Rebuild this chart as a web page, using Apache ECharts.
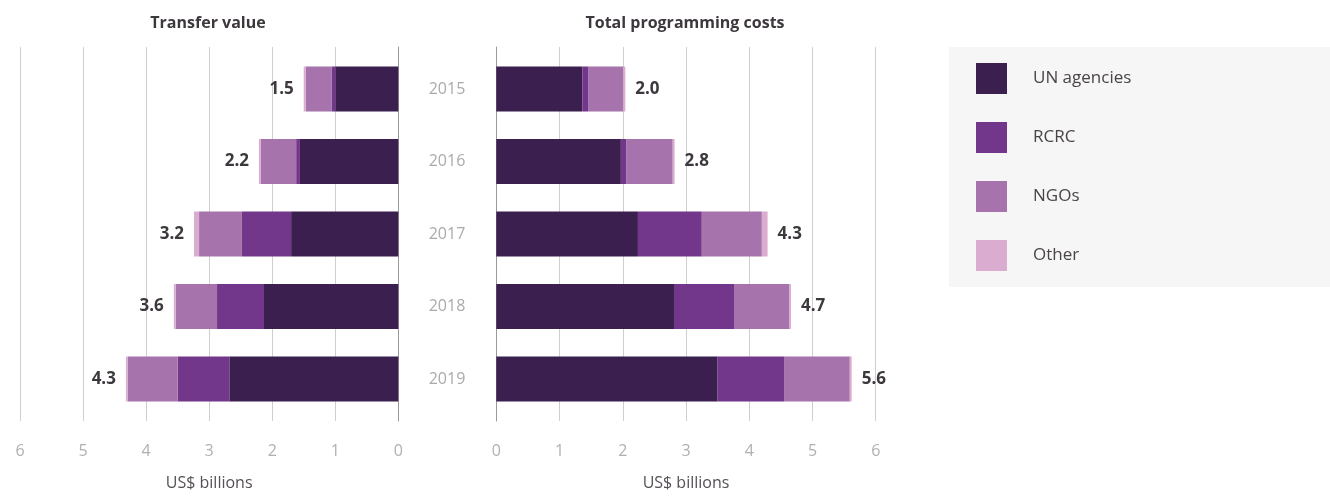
<!DOCTYPE html>
<html>
<head>
<meta charset="utf-8">
<script src="https://cdn.jsdelivr.net/npm/echarts@6/dist/echarts.min.js"></script>
<style>
html,body{margin:0;padding:0;background:#fff;}
#c{width:1330px;height:496px;}
</style>
</head>
<body>
<div id="c"></div>
<script>
const years = ['2015', '2016', '2017', '2018', '2019'];
const seriesNames = ['UN agencies', 'RCRC', 'NGOs', 'Other'];
const ticks = [0, 1, 2, 3, 4, 5, 6];

// Transfer value (US$ billions)
const transferUN = [1.00, 1.56, 1.70, 2.13, 2.68];
const transferRCRC = [0.06, 0.06, 0.78, 0.745, 0.82];
const transferNGO = [0.41, 0.56, 0.68, 0.655, 0.79];
const transferOther = [0.03, 0.03, 0.08, 0.03, 0.03];
const transferTotals = ['1.5', '2.2', '3.2', '3.6', '4.3'];

// Total programming costs (US$ billions)
const progUN = [1.36, 1.97, 2.24, 2.81, 3.50];
const progRCRC = [0.10, 0.09, 1.01, 0.96, 1.06];
const progNGO = [0.55, 0.73, 0.95, 0.86, 1.03];
const progOther = [0.03, 0.03, 0.09, 0.03, 0.03];
const progTotals = ['2.0', '2.8', '4.3', '4.7', '5.6'];

const colors = ['#3a1f4f', '#72368a', '#a673ac', '#d9acd0'];
const FONT = 'Open Sans';

const chart = echarts.init(document.getElementById('c'));

function mkSeries(name, data, idx, color, stack, label) {
  const s = {
    name: name, type: 'bar', stack: stack,
    xAxisIndex: idx, yAxisIndex: idx,
    data: data, barWidth: 45,
    itemStyle: { color: color },
    emphasis: { disabled: true },
    z: 3
  };
  if (label) s.label = label;
  return s;
}

function totalLabel(totals, pos) {
  return {
    show: true, position: pos, distance: 10,
    formatter: p => totals[p.dataIndex],
    fontFamily: FONT, fontWeight: 'bold', fontSize: 17, color: '#3d383d'
  };
}

const gridAxisX = (idx, inverse) => ({
  type: 'value', gridIndex: idx, min: 0, max: 6, interval: 1, inverse: inverse,
  axisLine: { show: false }, axisTick: { show: false },
  splitLine: { show: true, lineStyle: { color: '#cfcfcf', width: 1 } },
  axisLabel: { color: '#b0b0b0', fontSize: 16, fontFamily: FONT, margin: 22,
    formatter: v => ticks.includes(v) ? String(v) : '' },
  name: 'US$ billions', nameLocation: 'middle', nameGap: 54,
  nameTextStyle: { color: '#555055', fontSize: 16, fontFamily: FONT }
});

const option = {
  animation: false,
  title: [
    { text: 'Transfer value', left: 208, top: 15, textAlign: 'center', padding: 0,
      textStyle: { fontFamily: FONT, fontWeight: 'bold', fontSize: 16, color: '#3d383d' } },
    { text: 'Total programming costs', left: 685, top: 15, textAlign: 'center', padding: 0,
      textStyle: { fontFamily: FONT, fontWeight: 'bold', fontSize: 16, color: '#3d383d' } }
  ],
  graphic: [
    { type: 'rect', left: 949, top: 47, shape: { width: 381, height: 240 },
      style: { fill: '#f6f6f6' }, z: -1 }
  ],
  legend: {
    data: seriesNames, orient: 'vertical', left: 971, top: 58,
    itemWidth: 31, itemHeight: 31, itemGap: 28, icon: 'rect',
    selectedMode: false,
    textStyle: { fontFamily: FONT, fontSize: 17, color: '#4a4448', padding: [0, 0, 0, 21] }
  },
  grid: [
    { left: 20, top: 52.75, width: 378.3, height: 362.5 },
    { left: 496.3, top: 52.75, width: 379.4, height: 362.5 },
    { left: 20, top: 47, width: 378.3, height: 393 },
    { left: 496.3, top: 47, width: 379.4, height: 393 }
  ],
  xAxis: [
    { type: 'value', gridIndex: 0, min: 0, max: 6, inverse: true, show: false },
    { type: 'value', gridIndex: 1, min: 0, max: 6, show: false },
    gridAxisX(2, true),
    gridAxisX(3, false)
  ],
  yAxis: [
    { type: 'category', gridIndex: 0, data: years, inverse: true, show: false },
    { type: 'category', gridIndex: 1, data: years, inverse: true,
      axisLine: { show: false }, axisTick: { show: false },
      axisLabel: { color: '#aaaaaa', fontSize: 16, fontFamily: FONT, margin: 31 } },
    { type: 'value', gridIndex: 2, min: 0, max: 1, position: 'right',
      axisLine: { show: true, lineStyle: { color: '#9a9a9a', width: 1 } },
      axisTick: { show: false }, axisLabel: { show: false }, splitLine: { show: false } },
    { type: 'value', gridIndex: 3, min: 0, max: 1, position: 'left',
      axisLine: { show: true, lineStyle: { color: '#9a9a9a', width: 1 } },
      axisTick: { show: false }, axisLabel: { show: false }, splitLine: { show: false } }
  ],
  series: [
    mkSeries(seriesNames[0], transferUN, 0, colors[0], 't'),
    mkSeries(seriesNames[1], transferRCRC, 0, colors[1], 't'),
    mkSeries(seriesNames[2], transferNGO, 0, colors[2], 't'),
    mkSeries(seriesNames[3], transferOther, 0, colors[3], 't', totalLabel(transferTotals, 'left')),
    mkSeries(seriesNames[0], progUN, 1, colors[0], 'p'),
    mkSeries(seriesNames[1], progRCRC, 1, colors[1], 'p'),
    mkSeries(seriesNames[2], progNGO, 1, colors[2], 'p'),
    mkSeries(seriesNames[3], progOther, 1, colors[3], 'p', totalLabel(progTotals, 'right'))
  ]
};
chart.setOption(option);
</script>
</body>
</html>
